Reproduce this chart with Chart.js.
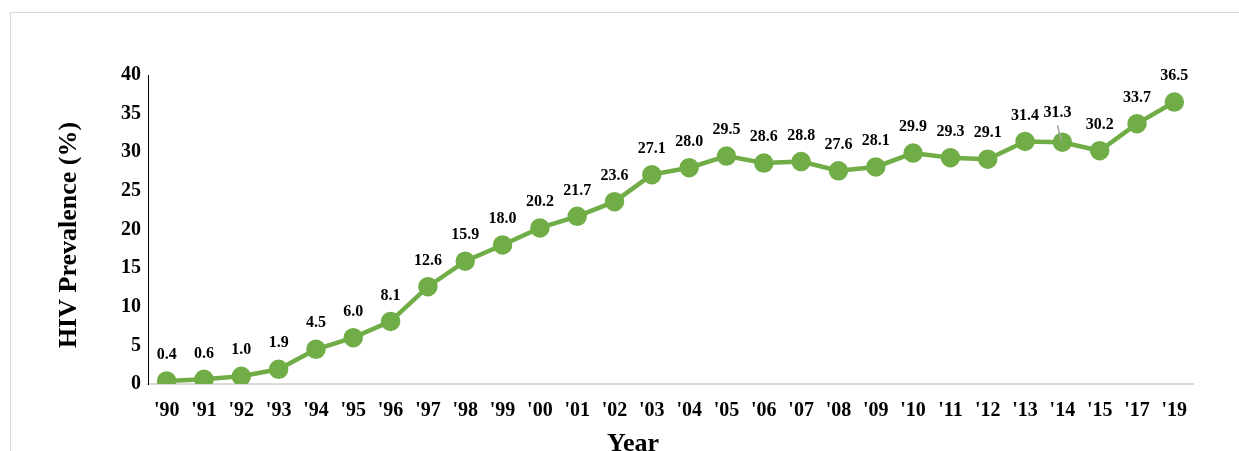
<!DOCTYPE html>
<html><head><meta charset="utf-8">
<script src="https://cdn.jsdelivr.net/npm/chart.js@4/dist/chart.umd.min.js"></script>
<style>
html,body{margin:0;padding:0;background:#fff;}
#wrap{position:relative;width:1239px;height:451px;}
canvas{display:block;}
</style></head>
<body><div id="wrap"><canvas id="c" width="1239" height="451"></canvas></div>
<script>
const categories = ["'90","'91","'92","'93","'94","'95","'96","'97","'98","'99","'00","'01","'02","'03","'04","'05","'06","'07","'08","'09","'10","'11","'12","'13","'14","'15","'17","'19"];
const prevalence = [0.4,0.6,1.0,1.9,4.5,6.0,8.1,12.6,15.9,18.0,20.2,21.7,23.6,27.1,28.0,29.5,28.6,28.8,27.6,28.1,29.9,29.3,29.1,31.4,31.3,30.2,33.7,36.5];
const yTicks = [0,5,10,15,20,25,30,35,40];
const xTitle = 'Year';
const yTitle = 'HIV Prevalence (%)';

const FONT = "'Liberation Serif','Times New Roman',serif";

const framePlugin = {
  id:'frame',
  beforeDraw(chart){
    const ctx = chart.ctx;
    ctx.save();
    ctx.fillStyle='#fff';
    ctx.fillRect(0,0,chart.width,chart.height);
    ctx.strokeStyle='#d9d9d9';
    ctx.lineWidth=1;
    ctx.strokeRect(10.5,12.5,chart.width+20,chart.height+20);
    ctx.restore();
  },
  afterDraw(chart){
    const ctx = chart.ctx;
    ctx.save();
    ctx.fillStyle='#000';
    ctx.textAlign='center';
    ctx.textBaseline='middle';
    ctx.font = "bold 26px " + FONT;
    ctx.fillText(xTitle, 633, 444);
    ctx.translate(69, 235);
    ctx.rotate(-Math.PI/2);
    ctx.fillText(yTitle, 0, 0);
    ctx.restore();
  }
};

const labelPlugin = {
  id:'valueLabels',
  afterDatasetsDraw(chart){
    const ctx = chart.ctx;
    const meta = chart.getDatasetMeta(0);
    ctx.save();
    ctx.font = "bold 16px " + FONT;
    ctx.fillStyle = '#000';
    ctx.textAlign = 'center';
    ctx.textBaseline = 'middle';
    meta.data.forEach((pt,i)=>{
      const v = prevalence[i];
      let dx = 0, dy = -26;
      if (categories[i]==="'14") {
        dx = -5; dy = -29;
        ctx.strokeStyle = '#a6a6a6';
        ctx.lineWidth = 1.5;
        ctx.beginPath();
        ctx.moveTo(pt.x - 5, pt.y - 17);
        ctx.lineTo(pt.x - 1, pt.y - 2);
        ctx.stroke();
      }
      ctx.fillText(v.toFixed(1), pt.x + dx, pt.y + dy);
    });
    ctx.restore();
  }
};

new Chart(document.getElementById('c'), {
  type:'line',
  data:{
    labels: categories,
    datasets:[{
      data: prevalence,
      borderColor:'#70AD47',
      backgroundColor:'#70AD47',
      borderWidth:4.5,
      pointRadius:7.5,
      pointHoverRadius:7.5,
      pointBackgroundColor:'#70AD47',
      pointBorderColor:'#70AD47',
      tension:0
    }]
  },
  options:{
    responsive:false,
    animation:false,
    events:[],
    layout:{padding:{left:50,right:46,top:75,bottom:0}},
    plugins:{legend:{display:false},tooltip:{enabled:false}},
    scales:{
      x:{
        offset:true,
        grid:{display:false,drawTicks:false},
        border:{display:true,color:'#d9d9d9',width:2},
        ticks:{color:'#000',font:{family:FONT,size:20,weight:'bold'},padding:15,maxRotation:0,autoSkip:false},
        afterFit(s){ s.height = 67; }
      },
      y:{
        min:0,max:40,
        afterBuildTicks(s){ s.ticks = yTicks.map(v=>({value:v})); },
        grid:{display:false,drawTicks:false},
        border:{display:true,color:'#000',width:1},
        ticks:{color:'#000',font:{family:FONT,size:20,weight:'bold'},padding:7},
        afterFit(s){ s.width = 98; }
      }
    }
  },
  plugins:[framePlugin,labelPlugin]
});
</script></body></html>
